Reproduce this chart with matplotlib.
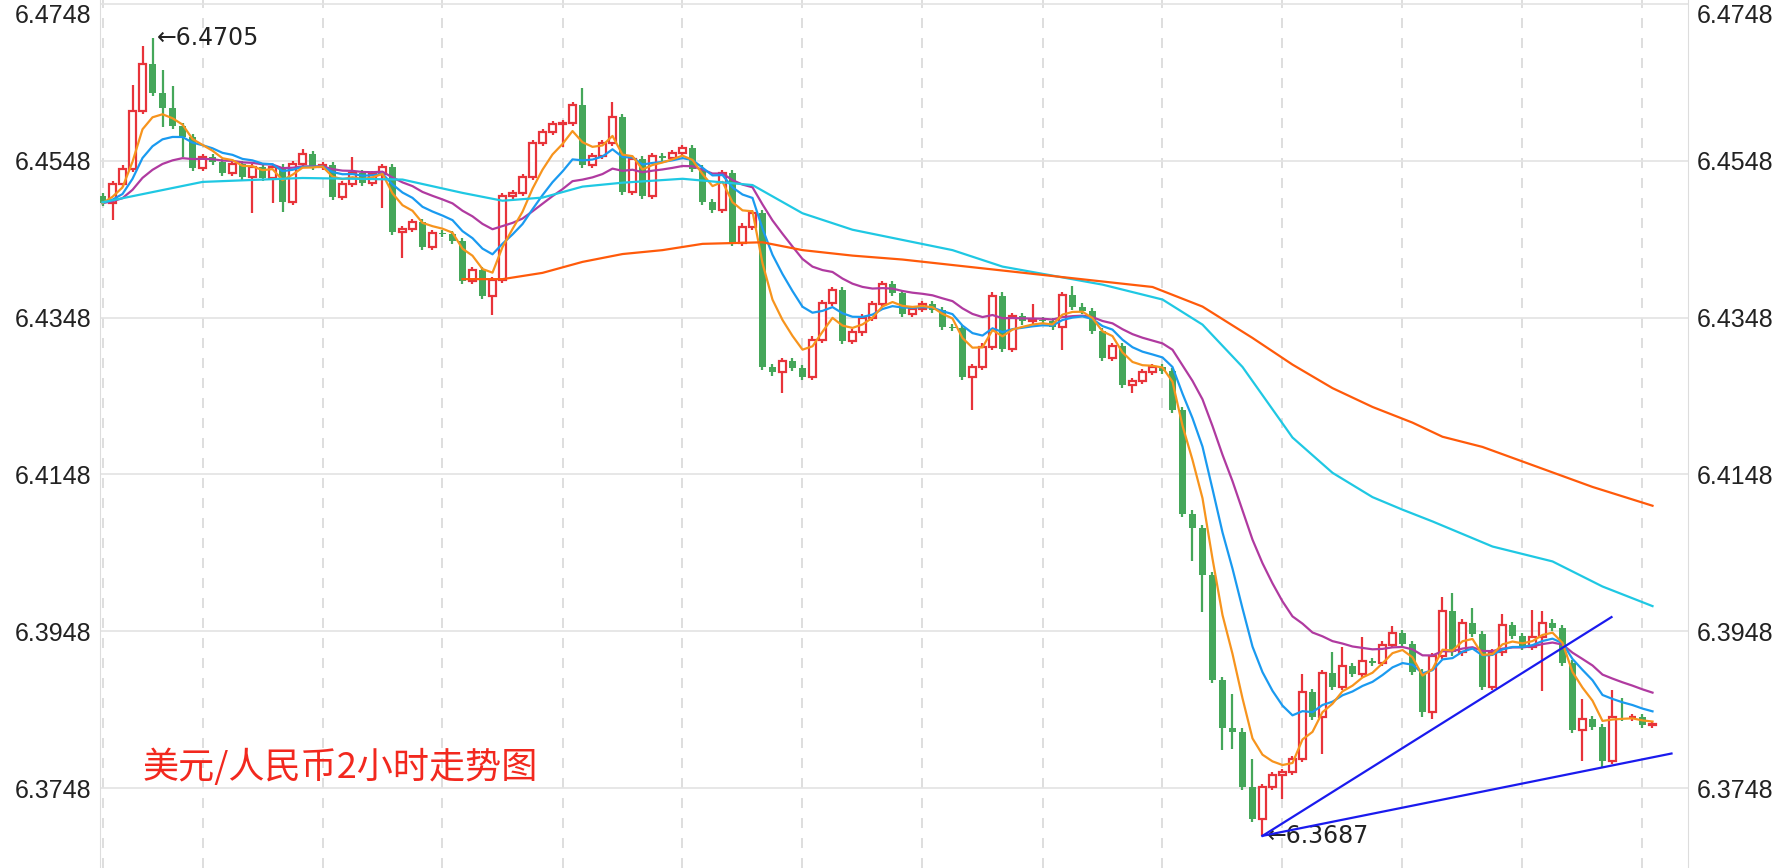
import numpy as np
import pandas as pd
import matplotlib
matplotlib.use("Agg")
from matplotlib import pyplot as plt

# 2-hour USD/CNY closes
closes = [6.4494, 6.4518, 6.4538, 6.4612, 6.4671, 6.4634, 6.4615, 6.4592, 6.4578, 6.4539,
          6.4553, 6.4546, 6.4532, 6.4544, 6.4527, 6.4540, 6.4526, 6.4540, 6.4495, 6.4544,
          6.4557, 6.4540, 6.4543, 6.4502, 6.4518, 6.4532, 6.4520, 6.4531, 6.4540, 6.4457,
          6.4461, 6.4470, 6.4438, 6.4456, 6.4455, 6.4446, 6.4395, 6.4409, 6.4376, 6.4396,
          6.4503, 6.4507, 6.4527, 6.4571, 6.4585, 6.4595, 6.4596, 6.4619, 6.4543, 6.4554,
          6.4571, 6.4604, 6.4508, 6.4550, 6.4503, 6.4554, 6.4552, 6.4558, 6.4564, 6.4538,
          6.4495, 6.4485, 6.4532, 6.4443, 6.4464, 6.4481, 6.4285, 6.4278, 6.4293, 6.4284,
          6.4272, 6.4320, 6.4367, 6.4383, 6.4318, 6.4329, 6.4348, 6.4365, 6.4391, 6.4379,
          6.4353, 6.4359, 6.4365, 6.4358, 6.4336, 6.4335, 6.4272, 6.4285, 6.4311, 6.4376,
          6.4308, 6.4350, 6.4343, 6.4345, 6.4344, 6.4336, 6.4377, 6.4362, 6.4356, 6.4331,
          6.4297, 6.4312, 6.4262, 6.4267, 6.4279, 6.4285, 6.4280, 6.4230, 6.4098, 6.4079,
          6.4020, 6.3886, 6.3825, 6.3820, 6.3749, 6.3709, 6.3749, 6.3765, 6.3768, 6.3785,
          6.3870, 6.3839, 6.3895, 6.3877, 6.3903, 6.3893, 6.3910, 6.3907, 6.3931, 6.3946,
          6.3932, 6.3896, 6.3845, 6.3916, 6.3974, 6.3921, 6.3959, 6.3944, 6.3877, 6.3921,
          6.3956, 6.3942, 6.3928, 6.3941, 6.3959, 6.3952, 6.3907, 6.3822, 6.3836, 6.3826,
          6.3782, 6.3839, 6.3838, 6.3838, 6.3829, 6.3830]
first_open = 6.4503

# visible wick extremes (index: (high, low)); None = wick close to body
wicks = {1: (None, 6.4473), 3: (6.4645, None), 4: (6.4694, None), 5: (6.4705, None),
         6: (6.4664, 6.4591), 7: (6.4643, None), 8: (None, 6.4553), 15: (None, 6.4481),
         17: (None, 6.4494), 18: (None, 6.4483), 20: (6.4563, None), 25: (6.4553, None),
         28: (None, 6.4488), 30: (None, 6.4424), 39: (None, 6.4351), 46: (None, 6.4566),
         48: (6.4641, None), 51: (6.4623, None), 68: (None, 6.4252), 87: (None, 6.4230),
         93: (6.4365, None), 96: (None, 6.4306), 97: (6.4388, None), 103: (None, 6.4252),
         109: (None, 6.4038), 110: (None, 6.3973), 112: (None, 6.3797), 113: (6.3868, 6.3798),
         115: (6.3785, None), 116: (None, 6.3687), 118: (None, 6.3734), 120: (6.3893, None),
         122: (None, 6.3791), 123: (6.3921, None), 124: (6.3928, None), 126: (6.3941, None),
         129: (6.3954, None), 132: (None, 6.3839), 133: (None, 6.3836), 134: (6.3991, None),
         135: (6.3997, None), 137: (6.3978, None), 140: (6.3970, None), 143: (6.3975, None),
         144: (6.3974, 6.3872), 148: (6.3861, 6.3783), 150: (None, 6.3774),
         151: (6.3873, None), 152: (6.3863, None)}

# long moving averages (need history before the window)
ma_cyan_idx = [0, 10, 20, 30, 36, 40, 44, 48, 52, 58, 65, 70, 75, 80, 85, 90, 100, 106,
               110, 114, 119, 123, 127, 130, 133, 139, 145, 150, 155]
ma_cyan = [6.4495, 6.4521, 6.4526, 6.4524, 6.4507, 6.4497, 6.4501, 6.4515, 6.4520, 6.4525,
           6.4517, 6.4481, 6.4460, 6.4447, 6.4434, 6.4413, 6.4390, 6.4371, 6.4339, 6.4285,
           6.4195, 6.4150, 6.4119, 6.4103, 6.4088, 6.4056, 6.4037, 6.4005, 6.3980]
ma_long_idx = [36, 40, 44, 48, 52, 56, 60, 66, 70, 75, 80, 85, 90, 100, 105, 110, 115,
               119, 123, 127, 131, 134, 138, 149, 155]
ma_long = [6.4397, 6.4397, 6.4405, 6.4419, 6.4429, 6.4434, 6.4442, 6.4444, 6.4434, 6.4427,
           6.4422, 6.4415, 6.4408, 6.4394, 6.4387, 6.4362, 6.4322, 6.4288, 6.4258, 6.4234,
           6.4214, 6.4196, 6.4183, 6.4132, 6.4108]

yticks = [6.3748, 6.3948, 6.4148, 6.4348, 6.4548, 6.4748]
title = "美元/人民币2小时走势图"

RED = "#e8333a"
GREEN = "#45a75a"

c = np.array(closes)
o = np.concatenate([[first_open], c[:-1]])
n = len(c)
x = np.arange(n)

fig = plt.figure(figsize=(17.86, 8.68), dpi=100)
ax = fig.add_axes([100 / 1786, 0, 1588 / 1786, 1])

for i in range(n):
    top, bot = max(o[i], c[i]), min(o[i], c[i])
    hi, lo = wicks.get(i, (None, None))
    hi = hi if hi else top + 0.0004
    lo = lo if lo else bot - 0.0004
    up = c[i] >= o[i]
    col = RED if up else GREEN
    ax.vlines(i, top, hi, color=col, lw=1.6, zorder=2)
    ax.vlines(i, lo, bot, color=col, lw=1.6, zorder=2)
    h = max(top - bot, 0.00012)
    if up:
        ax.bar(i, h, bottom=bot, width=0.62, facecolor="white", edgecolor=col, lw=1.6, zorder=3)
    else:
        ax.bar(i, h, bottom=bot, width=0.72, color=col, lw=0, zorder=3)

s = pd.Series(c)
ax.plot(x, s.ewm(span=20, adjust=False).mean(), color="#b03aa0", lw=1.6, zorder=4)
ax.plot(x, s.ewm(span=10, adjust=False).mean(), color="#1a9af0", lw=1.6, zorder=4)
ax.plot(x, s.ewm(span=5, adjust=False).mean(), color="#f7941d", lw=1.6, zorder=4)
ax.plot(ma_cyan_idx, ma_cyan, color="#1fc8e3", lw=1.6, zorder=4)
ax.plot(ma_long_idx, ma_long, color="#ff5a0a", lw=1.6, zorder=4)

# trend lines from the low
ax.plot([116, 150.9], [6.3687, 6.3966], color="#1a1aee", lw=1.6, zorder=5)
ax.plot([116, 156.9], [6.3687, 6.3792], color="#1a1aee", lw=1.6, zorder=5)

ax.annotate("←6.4705", (5.4, 6.4705), va="center", ha="left", fontsize=17,
            family=["DejaVu Sans"], color="#222222")
ax.annotate("←6.3687", (116.4, 6.3687), va="center", ha="left", fontsize=17,
            family=["DejaVu Sans"], color="#222222")
ax.text(4, 6.3774, title, color="#f2281e", fontsize=26, va="center", ha="left",
        family=["Noto Sans CJK SC", "DejaVu Sans"])

ax.set_xlim(-0.25, 158.55)
ax.set_ylim(6.3646, 6.4753)
ax.set_yticks(yticks)
ax.set_yticklabels(["%.4f" % v for v in yticks], family="Liberation Sans", fontsize=18)
ax.tick_params(axis="y", length=0, pad=6, labelleft=True, labelright=True, colors="#222222")
ax.tick_params(axis="x", length=0, labelbottom=False)
for lab in ax.get_yticklabels():
    if lab.get_text() == "6.4748":
        lab.set_va("top")
ax.grid(axis="y", color="#e3e3e3", lw=1.2)
for g in [0] + list(range(10, n, 12)):
    ax.axvline(g, color="#d8d8d8", lw=1.2, ls=(0, (6, 6)), zorder=0)
for side in ["top", "bottom"]:
    ax.spines[side].set_visible(False)
for side in ["left", "right"]:
    ax.spines[side].set_color("#dddddd")

fig.savefig("out.png", dpi=100)
